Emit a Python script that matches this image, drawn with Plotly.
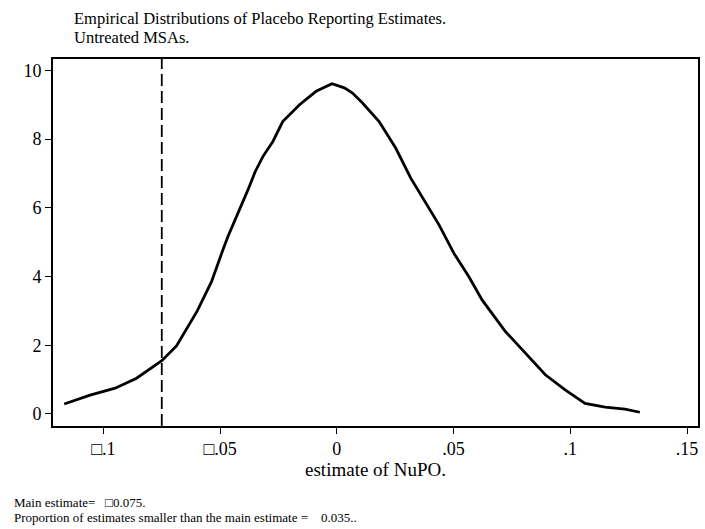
import plotly.graph_objects as go

# Kernel density of placebo estimates (estimate of NuPO vs density)
estimate = [-0.1168, -0.1057, -0.0950, -0.0858, -0.0750, -0.0687, -0.0598, -0.0537,
            -0.0488, -0.0467, -0.0381, -0.0350, -0.0317, -0.0274, -0.0232, -0.0160,
            -0.0089, -0.0047, -0.0021, 0.0032, 0.0067, 0.0110, 0.0181, 0.0252,
            0.0316, 0.0437, 0.0501, 0.0565, 0.0622, 0.0722, 0.0807,
            0.0893, 0.0978, 0.1063, 0.1149, 0.1234, 0.1298]
density = [0.29, 0.55, 0.75, 1.04, 1.55, 1.98, 3.00, 3.85,
           4.78, 5.16, 6.52, 7.05, 7.49, 7.93, 8.51, 9.00,
           9.39, 9.52, 9.61, 9.49, 9.34, 9.05, 8.51, 7.74,
           6.87, 5.51, 4.68, 4.00, 3.32, 2.40, 1.77,
           1.14, 0.70, 0.31, 0.20, 0.14, 0.05]

main_estimate = -0.075
share_smaller = 0.035

x_ticks = [-0.1, -0.05, 0, 0.05, 0.1, 0.15]
x_tick_text = ["\u25a1.1", "\u25a1.05", "0", ".05", ".1", ".15"]
y_ticks = [0, 2, 4, 6, 8, 10]

FONT = "Liberation Serif"

fig = go.Figure()
fig.add_trace(go.Scatter(
    x=estimate, y=density, mode="lines",
    line=dict(color="black", width=2.8),
    hoverinfo="skip", showlegend=False,
))

# vertical reference at the main estimate
fig.add_shape(type="line", xref="x", yref="paper",
              x0=main_estimate, x1=main_estimate, y0=0, y1=1,
              line=dict(color="black", width=1.8, dash="12px,5px"))


def note(text, x, y, size):
    return dict(text=text, xref="paper", yref="paper", x=x, y=y,
                xanchor="left", yanchor="middle", align="left", showarrow=False,
                font=dict(family=FONT, size=size))


fig.update_layout(
    width=705, height=529,
    margin=dict(l=53, r=5, t=59, b=103),
    paper_bgcolor="white", plot_bgcolor="white",
    font=dict(family=FONT, color="black", size=18),
    xaxis=dict(
        range=[-0.1216, 0.1547], tickvals=x_ticks, ticktext=x_tick_text,
        ticks="outside", ticklen=6, tickwidth=1.2, tickcolor="black",
        showline=True, mirror=True, linecolor="black", linewidth=1.6,
        showgrid=False, zeroline=False,
        tickfont=dict(family=FONT, size=18),
        title=dict(text="estimate of NuPO.", font=dict(family=FONT, size=19), standoff=2),
    ),
    yaxis=dict(
        range=[-0.35, 10.33], tickvals=y_ticks,
        ticks="outside", ticklen=6, tickwidth=1.2, tickcolor="black",
        showline=True, mirror=True, linecolor="black", linewidth=1.6,
        showgrid=False, zeroline=False,
        tickfont=dict(family=FONT, size=18),
    ),
    annotations=[
        note("Empirical Distributions of Placebo Reporting Estimates.",
             0.0294, (426 - 18) / 367, 16.5),
        note("Untreated MSAs.", 0.0294, (426 - 37) / 367, 16.5),
        note("Main estimate=   \u25a1" + f"{abs(main_estimate):.3f}.",
             -0.0634, (426 - 502) / 367, 13),
        note("Proportion of estimates smaller than the main estimate =    "
             + f"{share_smaller:.3f}..", -0.0634, (426 - 517) / 367, 13),
    ],
)

fig.write_html("out.html")
